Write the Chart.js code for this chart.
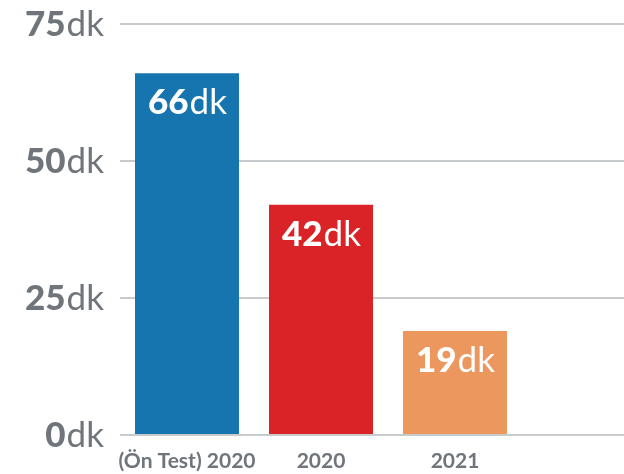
<!DOCTYPE html>
<html>
<head>
<meta charset="utf-8">
<script src="https://cdn.jsdelivr.net/npm/chart.js@4"></script>
<style>
html,body{margin:0;padding:0;background:#fff;overflow:hidden;width:624px;height:474px;}
#wrap{width:660px;height:474px;}
</style>
</head>
<body>
<div id="wrap"><canvas id="c" width="660" height="474"></canvas></div>
<script>
const categories = ['(Ön Test) 2020', '2020', '2021', ''];
const values = [66, 42, 19, null];
const barColors = ['#1674ae', '#da2326', '#ec975d', '#ffffff'];
const yTicks = [0, 25, 50, 75];
const unit = 'dk';

const TEXT_GRAY = '#6f757a';
const FONT_FAMILY = 'Lato, "Open Sans", sans-serif';

function drawMixed(ctx, num, x, y, align, color) {
  ctx.save();
  ctx.fillStyle = color;
  ctx.textBaseline = 'alphabetic';
  ctx.textAlign = 'left';
  const fb = '900 35px ' + FONT_FAMILY;
  const fr = 'normal 35px ' + FONT_FAMILY;
  ctx.font = fb;
  const w1 = ctx.measureText(String(num)).width;
  ctx.font = fr;
  const w2 = ctx.measureText(unit).width;
  let sx = x;
  if (align === 'right') sx = x - w1 - w2;
  else if (align === 'center') sx = x - (w1 + w2) / 2;
  ctx.font = fb;
  ctx.fillText(String(num), sx, y);
  ctx.font = fr;
  ctx.fillText(unit, sx + w1 + 1, y);
  ctx.restore();
}

const labelPlugin = {
  id: 'labels',
  afterDraw(chart) {
    const ctx = chart.ctx;
    const ys = chart.scales.y;
    yTicks.forEach(v => {
      const py = ys.getPixelForValue(v);
      drawMixed(ctx, v, 103, py + 12, 'right', TEXT_GRAY);
    });
    const meta = chart.getDatasetMeta(0);
    meta.data.forEach((bar, i) => {
      if (values[i] == null) return;
      drawMixed(ctx, values[i], bar.x, bar.y + 41, 'center', '#ffffff');
      ctx.save();
      ctx.fillStyle = TEXT_GRAY;
      ctx.font = 'bold 21px ' + FONT_FAMILY;
      ctx.textAlign = 'center';
      ctx.textBaseline = 'alphabetic';
      ctx.fillText(categories[i], bar.x, 468);
      ctx.restore();
    });
  }
};

new Chart(document.getElementById('c'), {
  type: 'bar',
  data: {
    labels: categories,
    datasets: [{
      data: values,
      backgroundColor: barColors,
      borderWidth: 0,
      barPercentage: 0.776,
      categoryPercentage: 1.0
    }]
  },
  options: {
    responsive: false,
    animation: false,
    layout: { padding: { top: 24, right: 4, left: 0, bottom: 0 } },
    plugins: { legend: { display: false }, tooltip: { enabled: false } },
    scales: {
      x: {
        grid: { display: false },
        border: { display: false },
        ticks: { display: false },
        afterFit(scale) { scale.height = 39; }
      },
      y: {
        min: 0,
        max: 75,
        ticks: { display: false, stepSize: 25 },
        border: { display: false },
        grid: { color: '#c8cbce', lineWidth: 2, drawTicks: false },
        afterFit(scale) { scale.width = 120; }
      }
    }
  },
  plugins: [labelPlugin]
});
</script>
</body>
</html>
